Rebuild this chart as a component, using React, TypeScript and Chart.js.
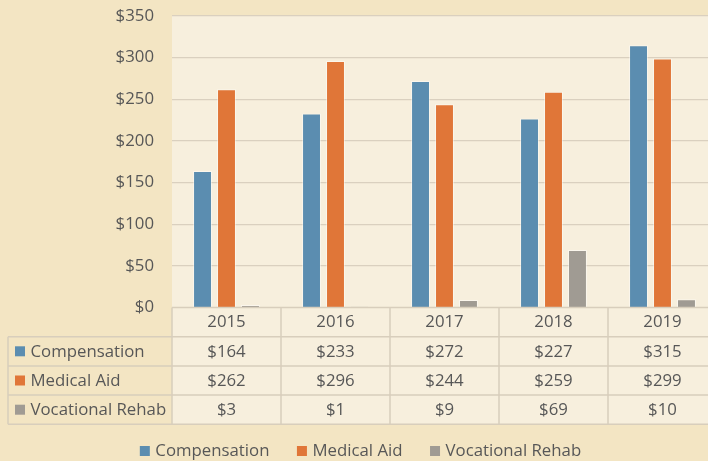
import React, { useEffect, useRef } from "react";
import { Chart, registerables } from "chart.js";

Chart.register(...registerables);

const categories = ["2015", "2016", "2017", "2018", "2019"];
const seriesNames = ["Compensation", "Medical Aid", "Vocational Rehab"];
const compensation = [164, 233, 272, 227, 315];
const medicalAid = [262, 296, 244, 259, 299];
const vocationalRehab = [3, 1, 9, 69, 10];
const seriesColors = ["#5B8DB0", "#E07638", "#A09B93"];
const yMin = 0;
const yMax = 350;
const yStep = 50;

const OUTER_BG = "#F3E5C3";
const PLOT_BG = "#F7EFDD";
const GRID = "#DAD0BF";
const TABLE_LINE = "#D8CEBC";
const TEXT = "#575757";
const FONT_FAMILY = "'Open Sans', 'Noto Sans', sans-serif";
const FONT_SIZE = 16.8;

const fmt = (v: number) => "$" + v;

const bgPlugin = {
  id: "bgPlugin",
  beforeDraw(chart: any) {
    const { ctx, chartArea } = chart;
    ctx.save();
    ctx.fillStyle = OUTER_BG;
    ctx.fillRect(0, 0, chart.width, chart.height);
    ctx.fillStyle = PLOT_BG;
    ctx.fillRect(chartArea.left, chartArea.top, chartArea.right - chartArea.left, chartArea.bottom - chartArea.top);
    ctx.restore();
  },
};

const tablePlugin = {
  id: "tablePlugin",
  afterDraw(chart: any) {
    const { ctx, chartArea } = chart;
    const allSeries = [compensation, medicalAid, vocationalRehab];
    const n = categories.length;
    const colW = (chartArea.right - chartArea.left) / n;
    const rowH = 29.2;
    const top = chartArea.bottom;
    const labelLeft = 8;
    const left = chartArea.left;
    const right = chartArea.right;
    const rows = 1 + allSeries.length;
    const bottom = top + rowH * rows;

    ctx.save();
    ctx.fillStyle = PLOT_BG;
    ctx.fillRect(left, top, right - left, bottom - top);

    ctx.strokeStyle = TABLE_LINE;
    ctx.lineWidth = 1.5;
    ctx.beginPath();
    ctx.moveTo(left, top);
    ctx.lineTo(right, top);
    for (let r = 1; r <= rows; r++) {
      const y = top + r * rowH;
      ctx.moveTo(labelLeft, y);
      ctx.lineTo(right, y);
    }
    for (let c = 0; c <= n; c++) {
      const x = left + c * colW;
      ctx.moveTo(x, top);
      ctx.lineTo(x, bottom);
    }
    ctx.moveTo(labelLeft, top + rowH);
    ctx.lineTo(labelLeft, bottom);
    ctx.stroke();

    ctx.font = `${FONT_SIZE}px ${FONT_FAMILY}`;
    ctx.fillStyle = TEXT;
    ctx.textBaseline = "middle";
    ctx.textAlign = "center";
    for (let c = 0; c < n; c++) {
      const cx = left + (c + 0.5) * colW;
      ctx.fillText(categories[c], cx, top + rowH / 2 + 0.5);
      for (let s = 0; s < allSeries.length; s++) {
        ctx.fillText(fmt(allSeries[s][c]), cx, top + (s + 1.5) * rowH + 0.5);
      }
    }
    ctx.textAlign = "left";
    for (let s = 0; s < allSeries.length; s++) {
      const cy = top + (s + 1.5) * rowH;
      ctx.fillStyle = seriesColors[s];
      ctx.fillRect(15, cy - 5, 10, 10);
      ctx.fillStyle = TEXT;
      ctx.fillText(seriesNames[s], 30.5, cy + 0.5);
    }

    const legendY = 451;
    const widths = seriesNames.map((t) => ctx.measureText(t).width);
    const boxW = 10;
    const gapBoxText = 5.5;
    const gapItems = 27.5;
    const total = widths.reduce((a, w) => a + boxW + gapBoxText + w, 0) + gapItems * (widths.length - 1);
    let x = 360.5 - total / 2;
    for (let s = 0; s < seriesNames.length; s++) {
      ctx.fillStyle = seriesColors[s];
      ctx.fillRect(x, legendY - 5, boxW, boxW);
      ctx.fillStyle = TEXT;
      ctx.fillText(seriesNames[s], x + boxW + gapBoxText, legendY + 0.5);
      x += boxW + gapBoxText + widths[s] + gapItems;
    }
    ctx.restore();
  },
};

export default function App() {
  const canvasRef = useRef<HTMLCanvasElement | null>(null);

  useEffect(() => {
    document.body.style.margin = "0";
    const canvas = canvasRef.current;
    if (!canvas) return;
    const chart = new Chart(canvas, {
      type: "bar",
      data: {
        labels: categories,
        datasets: [
          { label: seriesNames[0], data: compensation, backgroundColor: seriesColors[0] },
          { label: seriesNames[1], data: medicalAid, backgroundColor: seriesColors[1] },
          { label: seriesNames[2], data: vocationalRehab, backgroundColor: seriesColors[2] },
        ].map((d) => ({
          ...d,
          borderColor: "rgba(255,255,255,0.45)",
          borderWidth: 1,
          categoryPercentage: 0.66,
          barPercentage: 0.79,
        })),
      },
      options: {
        animation: false,
        responsive: false,
        maintainAspectRatio: false,
        devicePixelRatio: 1,
        layout: { padding: { top: 16, bottom: 153.5, left: 0, right: 1 } },
        plugins: {
          legend: { display: false },
          tooltip: { enabled: false },
        },
        scales: {
          x: { display: false },
          y: {
            min: yMin,
            max: yMax,
            ticks: {
              stepSize: yStep,
              padding: 18,
              color: TEXT,
              font: { family: FONT_FAMILY, size: FONT_SIZE },
              callback: (v: any) => fmt(Number(v)),
            },
            grid: { color: GRID, lineWidth: 1.2, drawTicks: false },
            border: { display: false },
            afterFit: (scale: any) => {
              scale.width = 172;
              scale.paddingTop = 0;
              scale.paddingBottom = 0;
            },
          },
        },
      },
      plugins: [bgPlugin, tablePlugin],
    });
    return () => chart.destroy();
  }, []);

  return (
    <div
      style={{
        position: "fixed",
        left: 0,
        top: 0,
        width: 708,
        height: 461,
        overflow: "hidden",
        background: OUTER_BG,
      }}
    >
      <canvas ref={canvasRef} width={718} height={461} style={{ display: "block", width: 718, height: 461 }} />
    </div>
  );
}
